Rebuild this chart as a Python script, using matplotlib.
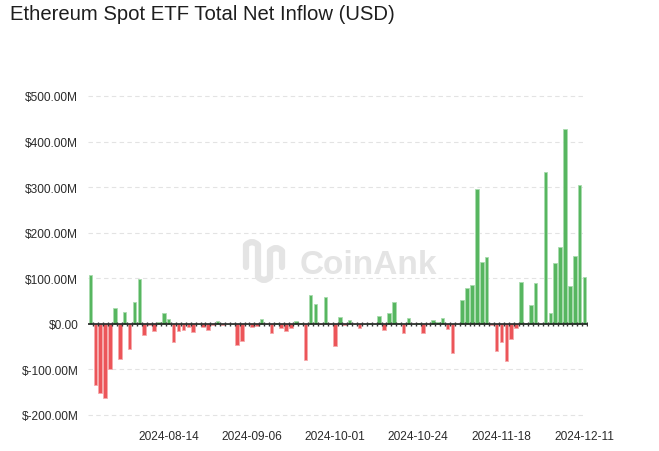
import matplotlib
matplotlib.use("Agg")
import matplotlib.pyplot as plt
from matplotlib.path import Path
from matplotlib.patches import PathPatch
import numpy as np
import pandas as pd

# ---- data (USD millions) ----
dates = pd.bdate_range("2024-07-23", "2024-12-11").strftime("%Y-%m-%d").tolist()
net_inflow = [
    106.7, -133.2, -152.3, -162.7, -98.3, 33.7, -77.2, 26.7, -54.3, 48.8,
    98.4, -23.7, -2.9, -15.7, 4.9, 24.3, 10.8, -39.5, -15.7, -13.5,
    -6.5, -17.5, 0.0, -5.8, -13.2, -3.5, 5.9, -1.8, 0.0, 0.0,
    -47.4, -37.5, 0.0, -6.4, -5.2, 11.4, 0.0, -20.1, 1.1, -9.8,
    -15.1, -9.7, 5.2, 2.9, -79.3, 62.5, 42.5, -0.7, 58.7, -0.7,
    -48.6, 14.5, -3.2, 7.4, 0.0, -8.2, 0.0, 2.3, 0.0, 17.9,
    -12.7, 24.9, 48.4, 2.0, -20.8, 11.9, 0.0, 2.3, -19.2, -1.1,
    7.6, 4.0, 13.1, -10.9, -63.2, 0.0, 52.3, 79.7, 85.9, 295.5,
    135.9, 146.1, -3.2, -59.8, -39.1, -81.3, -33.7, -9.3, 91.2, 2.8,
    40.6, 90.1, 0.0, 332.9, 24.2, 132.6, 167.7, 428.4, 83.8, 149.3,
    305.7, 102.1,
]
tick_idx = [16, 33, 50, 67, 84, 101]
y_ticks = [-200, -100, 0, 100, 200, 300, 400, 500]

W, H = 659, 452
fig = plt.figure(figsize=(W / 100, H / 100), dpi=100)
plt.rcParams['font.family'] = ['Liberation Sans', 'DejaVu Sans']

left, right, top, bottom = 88, 587, 97, 416
ax = fig.add_axes([left / W, 1 - bottom / H, (right - left) / W, (bottom - top) / H])

x = np.arange(len(dates))
vals = np.array(net_inflow)
green, red = '#57b660', '#ec5559'
green_e, red_e = '#a9dcae', '#f5aaac'
colors = [green if v >= 0 else red for v in vals]
edges = [green_e if v >= 0 else red_e for v in vals]
ax.bar(x, vals, width=0.72, color=colors, edgecolor=edges, linewidth=0.6, zorder=3)

ax.set_xlim(-0.5, len(dates) - 0.5)
ax.set_ylim(-200, 500)

for yv in y_ticks:
    if yv != 0:
        ax.plot([-0.5, len(dates) - 0.9], [yv, yv], color='#e3e3e3', lw=0.8,
                dashes=(4, 3), zorder=1, clip_on=False)
ax.axhline(0, color='#111111', lw=1.1, zorder=4)
# small category ticks on the zero line
ax.plot(np.arange(len(dates)) + 0.5, np.zeros(len(dates)), linestyle='none',
        marker='|', markersize=2.5, color='#333333', zorder=4)

ax.set_yticks(y_ticks)
ax.set_yticklabels([f"${v:.2f}M" if v != 0 else "$0.00" for v in y_ticks])
ax.set_xticks(tick_idx)
ax.set_xticklabels([dates[i] for i in tick_idx])
ax.tick_params(axis='both', length=0, labelsize=8.6, colors='#2b2b2b')
ax.tick_params(axis='y', pad=7)
ax.tick_params(axis='x', pad=11)
for s in ax.spines.values():
    s.set_visible(False)
ax.set_facecolor('none')

fig.text(10 / W, 1 - 14 / H, "Ethereum Spot ETF Total Net Inflow (USD)",
         fontsize=14.6, color='#1e1e1e', ha='left', va='center')

# watermark
fig.text(300 / W, 1 - 274 / H, "CoinAnk", fontsize=24, fontweight='bold',
         color='#e4e4e4', ha='left', va='baseline', zorder=0)
pts = [(246, 268), (246, 246), (252, 240), (258, 246), (258, 278), (264, 284),
       (270, 278), (270, 252), (276, 246), (282, 252), (282, 268)]
verts = [(px / W, 1 - py / H) for px, py in pts]
codes = [Path.MOVETO, Path.LINETO, Path.CURVE3, Path.CURVE3, Path.LINETO, Path.CURVE3,
         Path.CURVE3, Path.LINETO, Path.CURVE3, Path.CURVE3, Path.LINETO]
fig.patches.append(PathPatch(Path(verts, codes), transform=fig.transFigure,
                             fill=False, edgecolor='#e4e4e4', lw=4.5,
                             capstyle='round', joinstyle='round', zorder=0))

fig.savefig("out.png", dpi=100, facecolor='white')
